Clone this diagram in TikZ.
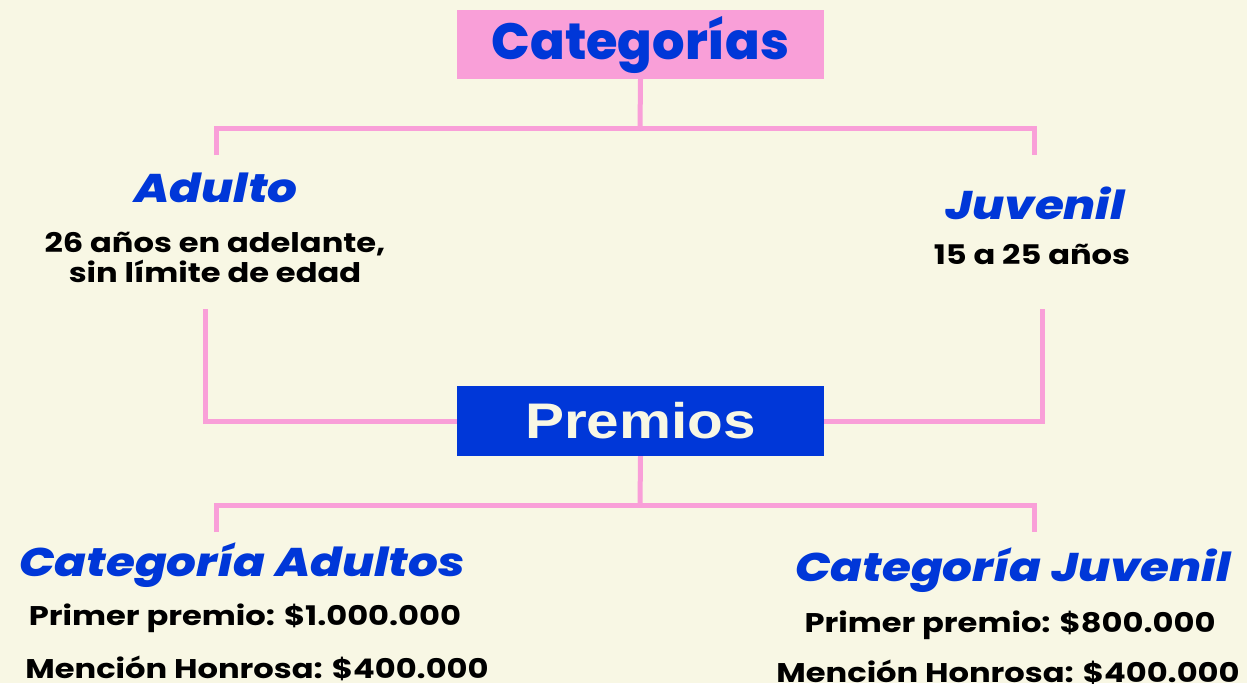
\documentclass[tikz,border=0pt]{standalone}
\usepackage{fontspec}
\setmainfont{Poppins}[FakeStretch=1.19]
\newfontfamily\headfont{Poppins ExtraBold Italic}[FakeStretch=1.17]
\newfontfamily\catfont{Poppins ExtraBold}
\newfontfamily\narrowfont{Liberation Sans}[FakeStretch=1.17]
\definecolor{bg}{HTML}{F8F7E4}
\definecolor{pinkc}{HTML}{F99FD8}
\definecolor{bluec}{HTML}{0037D8}
\begin{document}
\begin{tikzpicture}[x=1pt,y=-1pt,
  conn/.style={draw=pinkc,line width=5pt},
  head/.style={text=bluec,font=\headfont\fontsize{40}{44}\selectfont,inner sep=0pt,anchor=center},
  body/.style={text=black,font=\fontsize{27}{30}\selectfont\bfseries,inner sep=0pt,align=center,anchor=center},
  box/.style={minimum width=367pt,minimum height=69pt,inner sep=0pt,anchor=center}]
\fill[bg] (0,0) rectangle (1247,683);
\useasboundingbox (0,0) rectangle (1247,683);
% top box
\node[box,fill=pinkc,text=bluec,font=\catfont\fontsize{51}{54}\selectfont] (cat) at (640.5,44.5) {Categorías};
\node[head] (adulto) at (216,188) {Adulto};
\node[body] (adultotxt) at (215,257) {26 años en adelante,\\ sin límite de edad};
\node[head] (juvenil) at (1035,203) {Juvenil};
\node[body] (juveniltxt) at (1032,254) {15 a 25 años};
\node[box,fill=bluec,text=bg,minimum height=70pt,font=\narrowfont\fontsize{50}{52}\selectfont\bfseries] (prem) at (640.5,421) {Premios};
\node[head] (catA) at (242,565) {Categoría Adultos};
\node[body] (catA1) at (245,618) {Primer premio: \$1.000.000};
\node[body] (catA2) at (257,668) {Mención Honrosa: \$400.000};
\node[head] (catJ) at (1013,570) {Categoría Juvenil};
\node[body] (catJ1) at (1010,625) {Primer premio: \$800.000};
\node[body] (catJ2) at (1008,672) {Mención Honrosa: \$400.000};
% coordinates
\coordinate (t1) at (640,128);
\coordinate (tl) at (216,155);
\coordinate (tr) at (1034,155);
\coordinate (ml) at (205,309);
\coordinate (mr) at (1042,309);
\coordinate (b1) at (640,505);
\coordinate (bl) at (216,532);
\coordinate (br) at (1034,532);
% connectors
\draw[conn] (cat.south) -- (t1);
\draw[conn] (tl) |- (t1) -| (tr);
\draw[conn] (ml) |- (prem.west);
\draw[conn] (mr) |- (prem.east);
\draw[conn] (prem.south) -- (b1);
\draw[conn] (bl) |- (b1) -| (br);
\end{tikzpicture}
\end{document}
